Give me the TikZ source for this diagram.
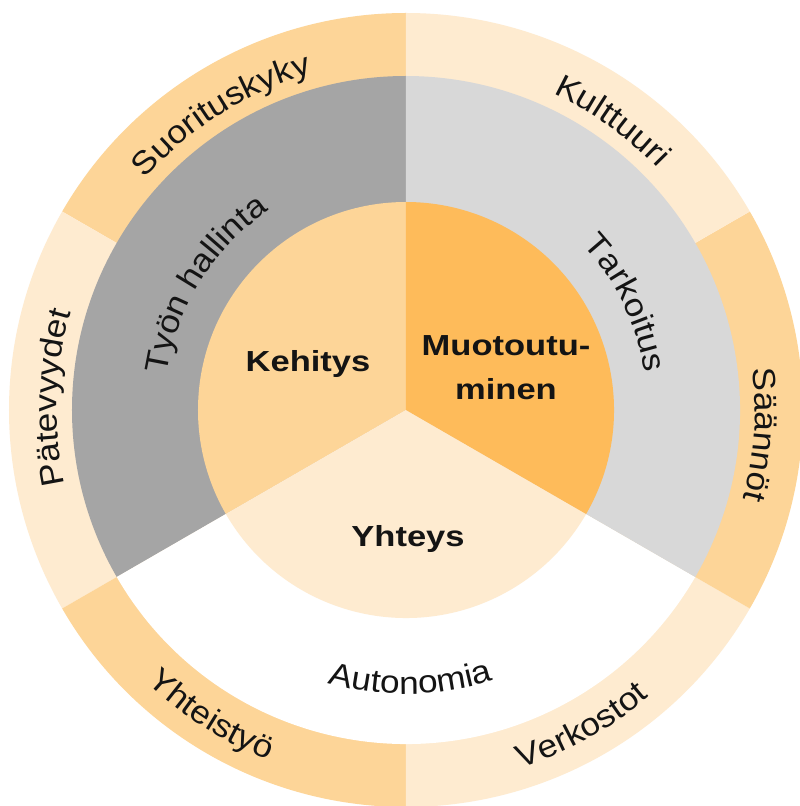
\documentclass[tikz,border=0pt]{standalone}
\usepackage{fontspec}
\setmainfont{Liberation Sans}
\newfontfamily\ringfamily{Liberation Sans}[FakeStretch=1.1]
\newfontfamily\corefamily{Liberation Sans}[FakeStretch=1.19]
\usetikzlibrary{decorations.text}

\definecolor{peachdark}{HTML}{FDD598}
\definecolor{peachlight}{HTML}{FEEBD0}
\definecolor{orangecore}{HTML}{FEBB5A}
\definecolor{greydark}{HTML}{A5A5A5}
\definecolor{greylight}{HTML}{D8D8D8}
\definecolor{ink}{HTML}{141414}

\newcommand\ringfont{\ringfamily\fontsize{32}{38}\selectfont}
\newcommand\corefont{\corefamily\bfseries\fontsize{29}{44}\selectfont}

% pie slice: colour, start angle, end angle, radius
\newcommand\pieslice[4]{%
  \fill[#1] (0,0) -- (#2:#4) arc[start angle=#2, end angle=#3, radius=#4] -- cycle;}

\tikzset{
  ringlabel/.style={decorate, decoration={text along path, text align=center,
      text color=ink, text={|\ringfont|#1}}},
  corelabel/.style={font=\corefont, inner sep=0pt, text=ink},
}

\begin{document}
\begin{tikzpicture}
  \useasboundingbox (-406pt,-396pt) rectangle (394pt,410pt);
  \fill[white] (-406pt,-396pt) rectangle (394pt,410pt);
  \clip (-406pt,-396pt) rectangle (394pt,410pt);

  % outer ring: six segments
  \pieslice{peachdark}{90}{150}{397pt}
  \pieslice{peachlight}{150}{210}{397pt}
  \pieslice{peachdark}{210}{270}{397pt}
  \pieslice{peachlight}{270}{330}{397pt}
  \pieslice{peachdark}{-30}{30}{397pt}
  \pieslice{peachlight}{30}{90}{397pt}

  % middle ring: three segments
  \pieslice{greydark}{90}{210}{334pt}
  \pieslice{white}{210}{330}{334pt}
  \pieslice{greylight}{-30}{90}{334pt}

  % core: three segments
  \pieslice{peachdark}{90}{210}{208pt}
  \pieslice{peachlight}{210}{330}{208pt}
  \pieslice{orangecore}{-30}{90}{208pt}

  % core labels
  \node[corelabel, anchor=base] (kehitys) at (-98pt,38pt) {Kehitys};
  \node[corelabel, align=center] (muotoutuminen) at (100pt,42pt) {Muotoutu-\\minen};
  \node[corelabel, anchor=base] (yhteys) at (2pt,-136pt) {Yhteys};

  % middle ring labels
  \path[ringlabel=Työn hallinta] (188:242pt) arc[start angle=188, end angle=108, radius=242pt];
  \path[ringlabel=Tarkoitus] (66:242pt) arc[start angle=66, end angle=-14, radius=242pt];
  \path[ringlabel=Autonomia] (231:284pt) arc[start angle=231, end angle=311, radius=284pt];

  % outer ring labels
  \path[ringlabel=Suorituskyky] (152:349pt) arc[start angle=152, end angle=92, radius=349pt];
  \path[ringlabel=Kulttuuri] (84.5:349pt) arc[start angle=84.5, end angle=24.5, radius=349pt];
  \path[ringlabel=Säännöt] (26:349pt) arc[start angle=26, end angle=-34, radius=349pt];
  \path[ringlabel=Pätevyydet] (208:349pt) arc[start angle=208, end angle=148, radius=349pt];
  \path[ringlabel=Yhteistyö] (207.5:376pt) arc[start angle=207.5, end angle=267.5, radius=376pt];
  \path[ringlabel=Verkostot] (269:376pt) arc[start angle=269, end angle=329, radius=376pt];
\end{tikzpicture}
\end{document}
